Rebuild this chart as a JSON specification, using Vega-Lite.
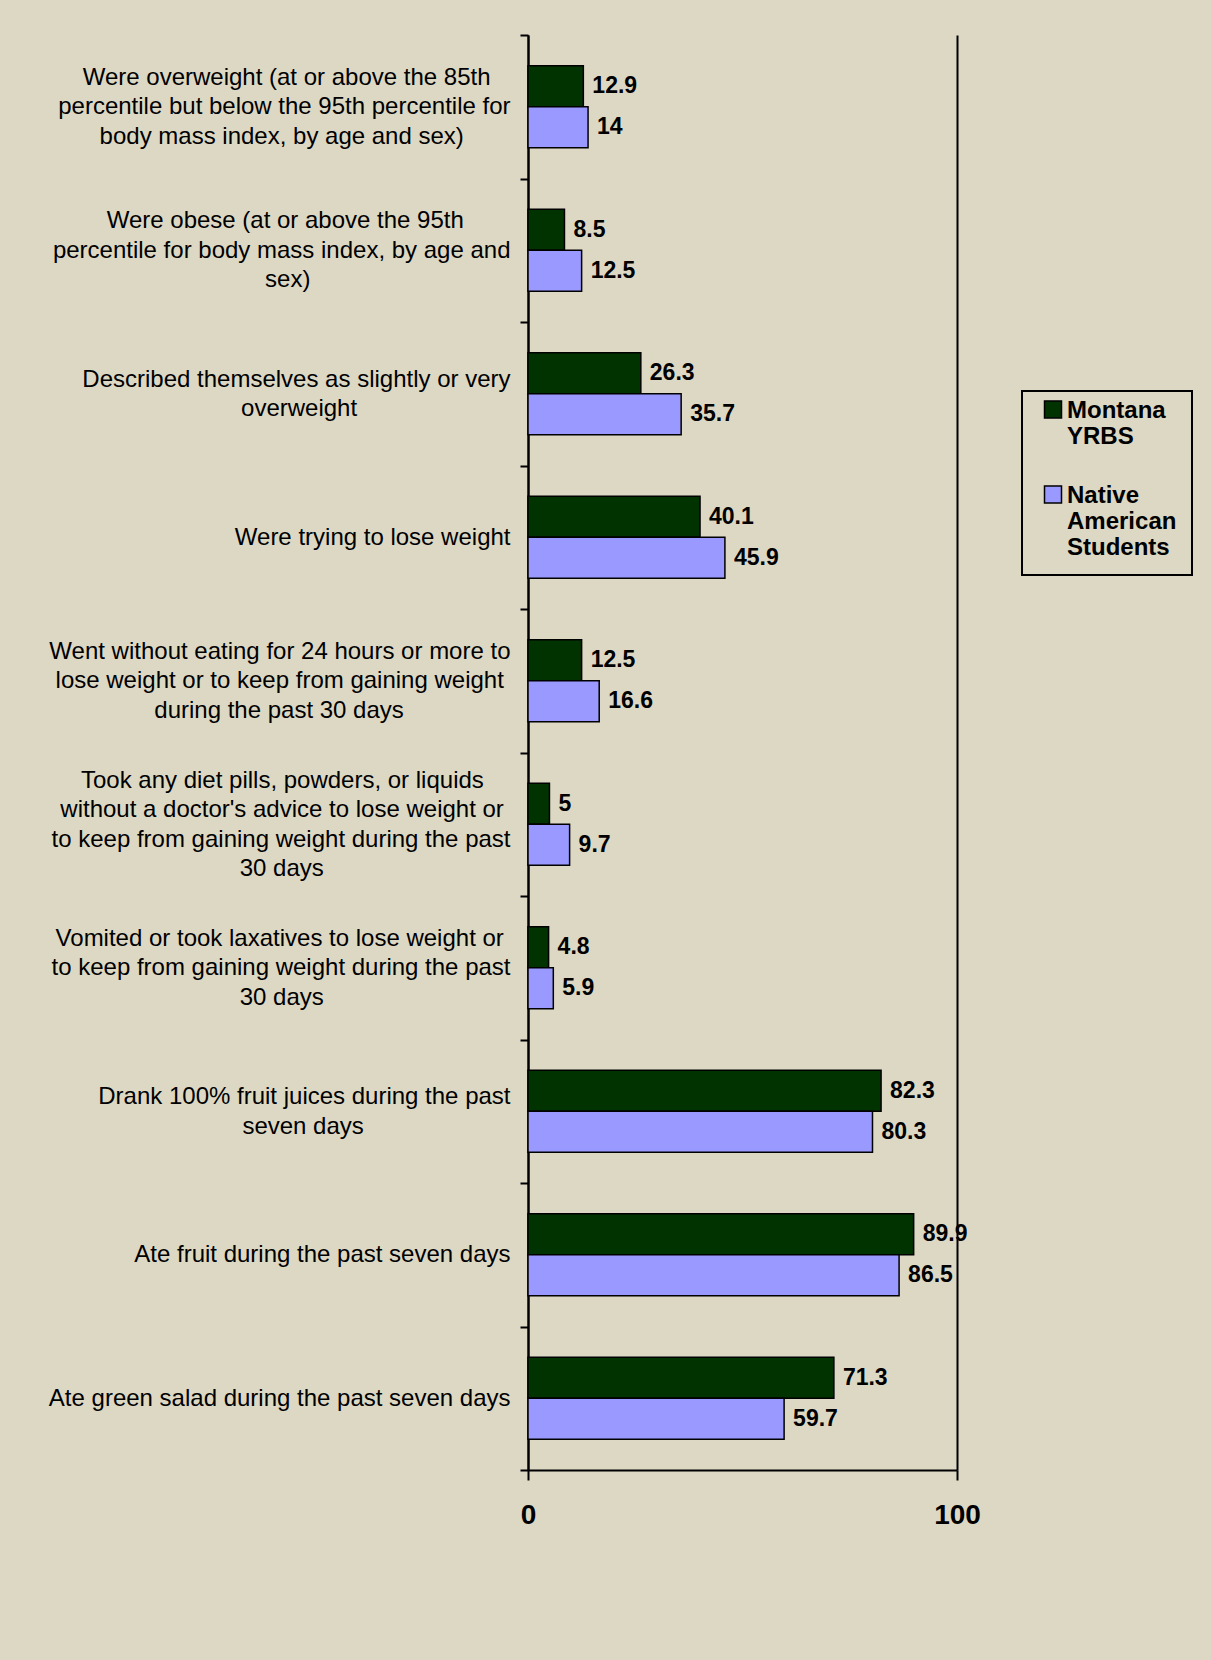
{
  "$schema": "https://vega.github.io/schema/vega-lite/v6.json",
  "width": 429,
  "height": 1435,
  "autosize": {"type": "none"},
  "padding": {"left": 528, "top": 35, "right": 254, "bottom": 190},
  "background": "#DDD8C4",
  "config": {
    "view": {"stroke": null},
    "font": "Liberation Sans",
    "axis": {"labelFont": "Liberation Sans", "labelColor": "black", "domainColor": "black", "tickColor": "black"},
    "legend": {"labelFont": "Liberation Sans", "labelColor": "black", "strokeWidth": 2}
  },
  "data": {
    "values": [
      {"category": "Were overweight (at or above the 85th percentile but below the 95th percentile for body mass index, by age and sex)", "series": "Montana YRBS", "value": 12.9},
      {"category": "Were overweight (at or above the 85th percentile but below the 95th percentile for body mass index, by age and sex)", "series": "Native American Students", "value": 14},
      {"category": "Were obese (at or above the 95th percentile for body mass index, by age and sex)", "series": "Montana YRBS", "value": 8.5},
      {"category": "Were obese (at or above the 95th percentile for body mass index, by age and sex)", "series": "Native American Students", "value": 12.5},
      {"category": "Described themselves as slightly or very overweight", "series": "Montana YRBS", "value": 26.3},
      {"category": "Described themselves as slightly or very overweight", "series": "Native American Students", "value": 35.7},
      {"category": "Were trying to lose weight", "series": "Montana YRBS", "value": 40.1},
      {"category": "Were trying to lose weight", "series": "Native American Students", "value": 45.9},
      {"category": "Went without eating for 24 hours or more to lose weight or to keep from gaining weight during the past 30 days", "series": "Montana YRBS", "value": 12.5},
      {"category": "Went without eating for 24 hours or more to lose weight or to keep from gaining weight during the past 30 days", "series": "Native American Students", "value": 16.6},
      {"category": "Took any diet pills, powders, or liquids without a doctor's advice to lose weight or to keep from gaining weight during the past 30 days", "series": "Montana YRBS", "value": 5},
      {"category": "Took any diet pills, powders, or liquids without a doctor's advice to lose weight or to keep from gaining weight during the past 30 days", "series": "Native American Students", "value": 9.7},
      {"category": "Vomited or took laxatives to lose weight or to keep from gaining weight during the past 30 days", "series": "Montana YRBS", "value": 4.8},
      {"category": "Vomited or took laxatives to lose weight or to keep from gaining weight during the past 30 days", "series": "Native American Students", "value": 5.9},
      {"category": "Drank 100% fruit juices during the past seven days", "series": "Montana YRBS", "value": 82.3},
      {"category": "Drank 100% fruit juices during the past seven days", "series": "Native American Students", "value": 80.3},
      {"category": "Ate fruit during the past seven days", "series": "Montana YRBS", "value": 89.9},
      {"category": "Ate fruit during the past seven days", "series": "Native American Students", "value": 86.5},
      {"category": "Ate green salad during the past seven days", "series": "Montana YRBS", "value": 71.3},
      {"category": "Ate green salad during the past seven days", "series": "Native American Students", "value": 59.7}
    ]
  },
  "encoding": {
    "y": {
      "field": "category",
      "type": "nominal",
      "sort": null,
      "scale": {"paddingInner": 0, "paddingOuter": 0},
      "axis": {
        "title": null,
        "tickBand": "extent",
        "tickSize": 8,
        "tickWidth": 2,
        "domainWidth": 2,
        "labelFontSize": 24,
        "labelLineHeight": 14.75,
        "labelAlign": "right",
        "labelBaseline": "middle",
        "labelPadding": 10,
        "labelLimit": 1000,
        "labelOffset": -44.25,
        "labelExpr": "({\"Were overweight (at or above the 85th percentile but below the 95th percentile for body mass index, by age and sex)\": [\"\u200b\", \"Were overweight (at or above the 85th\u00a0\u00a0\u00a0\u200b\", \"\u200b\", \"percentile but below the 95th percentile for\", \"\u200b\", \"body mass index, by age and sex)\u00a0\u00a0\u00a0\u00a0\u00a0\u00a0\u00a0\u200b\"], \"Were obese (at or above the 95th percentile for body mass index, by age and sex)\": [\"\u200b\", \"Were obese (at or above the 95th\u00a0\u00a0\u00a0\u00a0\u00a0\u00a0\u00a0\u200b\", \"\u200b\", \"percentile for body mass index, by age and\", \"\u200b\", \"sex)\u00a0\u00a0\u00a0\u00a0\u00a0\u00a0\u00a0\u00a0\u00a0\u00a0\u00a0\u00a0\u00a0\u00a0\u00a0\u00a0\u00a0\u00a0\u00a0\u00a0\u00a0\u00a0\u00a0\u00a0\u00a0\u00a0\u00a0\u00a0\u00a0\u00a0\u200b\"], \"Described themselves as slightly or very overweight\": [\"\u200b\", \"\u200b\", \"Described themselves as slightly or very\", \"\u200b\", \"overweight\u00a0\u00a0\u00a0\u00a0\u00a0\u00a0\u00a0\u00a0\u00a0\u00a0\u00a0\u00a0\u00a0\u00a0\u00a0\u00a0\u00a0\u00a0\u00a0\u00a0\u00a0\u00a0\u00a0\u200b\"], \"Went without eating for 24 hours or more to lose weight or to keep from gaining weight during the past 30 days\": [\"\u200b\", \"Went without eating for 24 hours or more to\", \"\u200b\", \"lose weight or to keep from gaining weight\u00a0\u200b\", \"\u200b\", \"during the past 30 days\u00a0\u00a0\u00a0\u00a0\u00a0\u00a0\u00a0\u00a0\u00a0\u00a0\u00a0\u00a0\u00a0\u00a0\u00a0\u00a0\u200b\"], \"Took any diet pills, powders, or liquids without a doctor's advice to lose weight or to keep from gaining weight during the past 30 days\": [\"Took any diet pills, powders, or liquids\u00a0\u00a0\u00a0\u00a0\u200b\", \"\u200b\", \"without a doctor's advice to lose weight or\u00a0\u200b\", \"\u200b\", \"to keep from gaining weight during the past\", \"\u200b\", \"30 days\u00a0\u00a0\u00a0\u00a0\u00a0\u00a0\u00a0\u00a0\u00a0\u00a0\u00a0\u00a0\u00a0\u00a0\u00a0\u00a0\u00a0\u00a0\u00a0\u00a0\u00a0\u00a0\u00a0\u00a0\u00a0\u00a0\u00a0\u00a0\u200b\"], \"Vomited or took laxatives to lose weight or to keep from gaining weight during the past 30 days\": [\"\u200b\", \"Vomited or took laxatives to lose weight or\u00a0\u200b\", \"\u200b\", \"to keep from gaining weight during the past\", \"\u200b\", \"30 days\u00a0\u00a0\u00a0\u00a0\u00a0\u00a0\u00a0\u00a0\u00a0\u00a0\u00a0\u00a0\u00a0\u00a0\u00a0\u00a0\u00a0\u00a0\u00a0\u00a0\u00a0\u00a0\u00a0\u00a0\u00a0\u00a0\u00a0\u00a0\u200b\"], \"Drank 100% fruit juices during the past seven days\": [\"\u200b\", \"\u200b\", \"Drank 100% fruit juices during the past\", \"\u200b\", \"seven days\u00a0\u00a0\u00a0\u00a0\u00a0\u00a0\u00a0\u00a0\u00a0\u00a0\u00a0\u00a0\u00a0\u00a0\u00a0\u00a0\u00a0\u00a0\u00a0\u00a0\u00a0\u00a0\u200b\"]})[datum.label] || [\"\u200b\", \"\u200b\", \"\u200b\", datum.label]"
      }
    },
    "yOffset": {
      "field": "series",
      "type": "nominal",
      "sort": ["Montana YRBS", "Native American Students"],
      "scale": {"paddingInner": 0, "paddingOuter": 0.75}
    },
    "x": {
      "field": "value",
      "type": "quantitative",
      "scale": {"domain": [0, 100], "nice": false},
      "axis": {
        "title": null,
        "values": [0, 100],
        "grid": true,
        "gridColor": "black",
        "gridWidth": 2,
        "gridOpacity": 1,
        "tickSize": 10,
        "tickWidth": 2,
        "domainWidth": 2,
        "labelFontSize": 28,
        "labelFontWeight": "bold",
        "labelPadding": 21,
        "labelFlush": false
      }
    }
  },
  "layer": [
    {
      "mark": {"type": "bar", "stroke": "black", "strokeWidth": 1.5},
      "encoding": {
        "color": {
          "field": "series",
          "type": "nominal",
          "scale": {"domain": ["Montana YRBS", "Native American Students"], "range": ["#003300", "#9999FF"]},
          "legend": {
            "title": null,
            "orient": "none",
            "legendX": 494,
            "legendY": 356,
            "direction": "vertical",
            "strokeColor": "black",
            "fillColor": "#DDD8C4",
            "padding": 15,
            "symbolType": "M-1,-2.01H1V-0.01H-1Z",
            "symbolSize": 289,
            "symbolOffset": 4,
            "symbolStrokeColor": "black",
            "symbolStrokeWidth": 1.5,
            "symbolOpacity": 1,
            "labelFontSize": 24,
            "labelFontWeight": "bold",
            "labelLineHeight": 28,
            "labelBaseline": "alphabetic",
            "labelOffset": 2,
            "labelLimit": 500,
            "rowPadding": 33,
            "labelExpr": "datum.label == 'Montana YRBS' ? ['Montana', 'YRBS'] : ['Native', 'American', 'Students']"
          }
        }
      }
    },
    {
      "mark": {"type": "text", "align": "left", "baseline": "middle", "dx": 9, "fontSize": 23, "fontWeight": "bold", "color": "black"},
      "encoding": {
        "text": {"field": "value", "type": "quantitative", "format": "~g"}
      }
    }
  ]
}
